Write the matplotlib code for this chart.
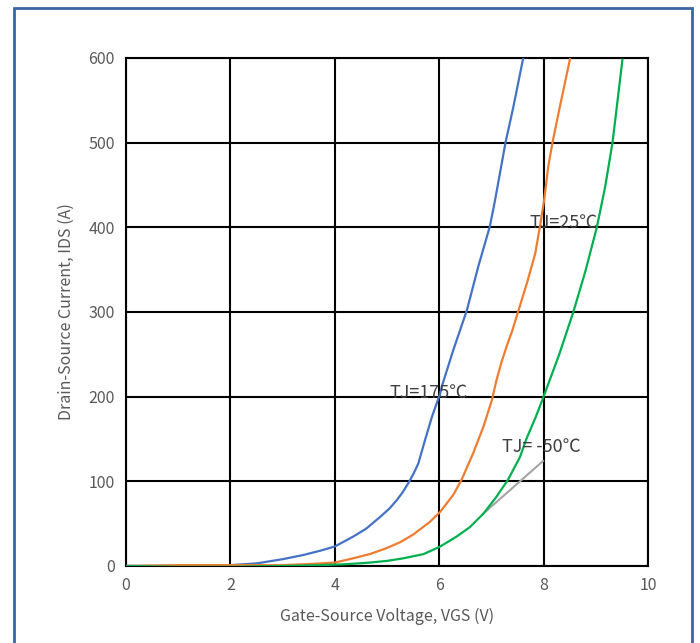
import matplotlib.pyplot as plt
import matplotlib.patches as patches

plt.rcParams['font.family'] = ['Noto Sans CJK SC', 'DejaVu Sans']

# transfer curves, VGS (V) vs IDS (A)
vgs_175 = [0, 1, 2, 2.5, 3, 3.4, 3.72, 4.0, 4.35, 4.6, 4.87, 5.05, 5.19, 5.3,
           5.41, 5.5, 5.6, 5.73, 5.86, 6.02, 6.05, 6.27, 6.53, 6.75, 6.97,
           7.07, 7.27, 7.42, 7.61]
ids_175 = [0, 0, 1, 3, 8, 13, 18, 23, 34.6, 44, 58, 68, 78, 87,
           98, 108, 121, 149, 176, 204, 212, 255, 302, 354, 401,
           432, 500, 542, 600]

vgs_25 = [0, 1, 2, 3, 3.4, 3.72, 4.0, 4.35, 4.67, 4.99, 5.25, 5.5, 5.82,
          6.02, 6.27, 6.43, 6.65, 6.85, 7.01, 7.07, 7.1, 7.2, 7.29, 7.4,
          7.52, 7.68, 7.84, 7.93, 8.01, 8.09, 8.17, 8.31, 8.51]
ids_25 = [0, 1, 1, 1, 2, 3, 4, 9, 14, 21, 28, 37, 52,
          64, 84, 102, 133, 165, 196, 212, 220, 242, 259, 278,
          302, 334, 369, 401, 432, 472, 500, 542, 600]

vgs_m50 = [0, 1, 2, 3, 3.72, 4.2, 4.67, 5.0, 5.31, 5.7, 6.02, 6.34, 6.59,
           6.85, 7.1, 7.32, 7.55, 7.67, 7.85, 8.0, 8.3, 8.57, 8.8, 9.02,
           9.18, 9.32, 9.41, 9.51]
ids_m50 = [0, -1, -1, 0, 1, 2, 4, 6, 9, 14, 23, 35, 46,
           62, 82, 102, 129, 150, 176, 200, 250, 300, 348, 400,
           448, 500, 546, 598]

# linear extrapolation segment
vgs_fit = [6.83, 7.99]
ids_fit = [61, 124]

fig = plt.figure(figsize=(7, 6.43), dpi=100)
ax = fig.add_axes([0.18, 0.1198, 0.7457, 0.79])

ax.plot(vgs_175, ids_175, color='#4472C4', lw=1.6, zorder=3)
ax.plot(vgs_25, ids_25, color='#ED7D31', lw=1.6, zorder=3)
ax.plot(vgs_m50, ids_m50, color='#00B050', lw=1.6, zorder=3)
ax.plot(vgs_fit, ids_fit, color='#A5A5A5', lw=1.5, zorder=2)

ax.set_xlim(0, 10)
ax.set_ylim(0, 600)
ax.set_xticks(range(0, 11, 2))
ax.set_yticks(range(0, 601, 100))
ax.grid(True, color='black', lw=1.5)
ax.set_axisbelow(True)
for s in ax.spines.values():
    s.set_color('black')
    s.set_linewidth(1.5)
ax.tick_params(length=0, labelsize=11.5, labelcolor='#595959', pad=8)

ax.set_xlabel('Gate-Source Voltage, VGS (V)', fontsize=11.5, color='#595959', labelpad=10)
ax.set_ylabel('Drain-Source Current, IDS (A)', fontsize=11.5, color='#595959', labelpad=10)

lbl = dict(fontsize=13, color='#404040', ha='center', va='center', zorder=5)
ax.text(5.795, 204, 'TJ=175℃', **lbl)
ax.text(8.375, 405, 'TJ=25℃', **lbl)
ax.text(7.96, 141, 'TJ= -50℃', **lbl)

# outer frame
frame = patches.Rectangle((14 / 700, -0.1), 678 / 700, 1.1 - 8 / 643,
                          transform=fig.transFigure, fill=False,
                          edgecolor='#3A65A5', lw=2)
fig.patches.append(frame)

fig.savefig('out.png', dpi=100)
